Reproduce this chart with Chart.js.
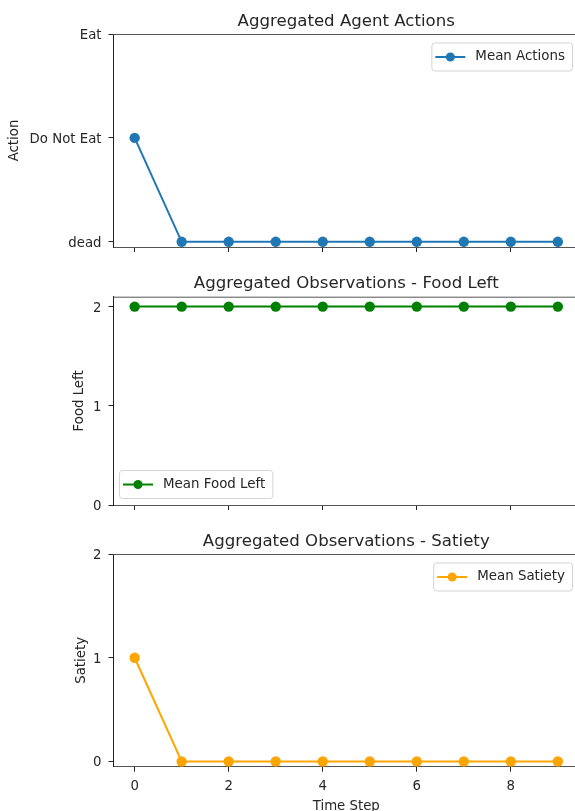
<!DOCTYPE html>
<html>
<head>
<meta charset="utf-8">
<script src="https://cdn.jsdelivr.net/npm/chart.js@4.4.1/dist/chart.umd.min.js"></script>
<style>
  html, body { margin: 0; padding: 0; background: #fff; width: 575px; height: 811px; overflow: hidden; }
  .panel { position: absolute; left: 0; }
</style>
</head>
<body>
<div class="panel" style="top:0px"><canvas id="actions" width="600" height="262"></canvas></div>
<div class="panel" style="top:262px"><canvas id="food" width="600" height="258"></canvas></div>
<div class="panel" style="top:520px"><canvas id="satiety" width="600" height="291"></canvas></div>
<script>
// Aggregated per-step means over all agents
const timeSteps = [0, 1, 2, 3, 4, 5, 6, 7, 8, 9];
const meanActions = [1, 0, 0, 0, 0, 0, 0, 0, 0, 0];
const meanFoodLeft = [2, 2, 2, 2, 2, 2, 2, 2, 2, 2];
const meanSatiety = [1, 0, 0, 0, 0, 0, 0, 0, 0, 0];

// Tick labels
const actionLabels = ['dead', 'Do Not Eat', 'Eat'];
const xTickValues = [0, 2, 4, 6, 8];
const yTickValues = [0, 1, 2];

const FONT = "'DejaVu Sans', 'Liberation Sans', sans-serif";
const TICK_SIZE = 13.3;
const LEGEND_SIZE = 13.4;
const TITLE_SIZE = 16.6;
const TEXT_COLOR = '#262626';

// Top frame line, panel title and a boxed legend
const framePlugin = {
  id: 'frame',
  afterDraw(chart, args, opts) {
    const { ctx, chartArea: a } = chart;
    ctx.save();
    ctx.lineWidth = 1;
    ctx.strokeStyle = '#555';
    ctx.beginPath();
    ctx.moveTo(a.left, a.top + 0.5);
    ctx.lineTo(a.right, a.top + 0.5);
    ctx.stroke();

    // title
    ctx.fillStyle = TEXT_COLOR;
    ctx.font = `${TITLE_SIZE}px ${FONT}`;
    ctx.textAlign = 'center';
    ctx.textBaseline = 'alphabetic';
    ctx.fillText(opts.title, (a.left + a.right) / 2, a.top - 8.5);

    // legend
    const ds = chart.data.datasets[0];
    ctx.font = `${LEGEND_SIZE}px ${FONT}`;
    const tw = ctx.measureText(ds.label).width;
    const bw = 4 + 30 + 10 + tw + 7;
    const bh = 28;
    const pad = 7;
    let bx, by;
    if (opts.legendAt === 'sw') {
      bx = a.left + 5.5;
      by = a.bottom - pad - bh;
    } else {
      bx = 572 - bw;
      by = a.top + 8.5;
    }
    ctx.beginPath();
    ctx.roundRect(bx + 0.5, by + 0.5, bw, bh, 3);
    ctx.fillStyle = 'rgba(255,255,255,0.85)';
    ctx.fill();
    ctx.strokeStyle = '#d4d4d4';
    ctx.stroke();
    const cy = by + bh / 2 + 0.5;
    ctx.strokeStyle = ds.borderColor;
    ctx.lineWidth = 2;
    ctx.beginPath();
    ctx.moveTo(bx + 4, cy);
    ctx.lineTo(bx + 34, cy);
    ctx.stroke();
    ctx.fillStyle = ds.borderColor;
    ctx.beginPath();
    ctx.arc(bx + 19, cy, 4.5, 0, Math.PI * 2);
    ctx.fill();
    ctx.fillStyle = TEXT_COLOR;
    ctx.textAlign = 'left';
    ctx.textBaseline = 'middle';
    ctx.fillText(ds.label, bx + 44, cy);
    ctx.restore();
  }
};

function makePanel(id, cfg) {
  const points = timeSteps.map((t, i) => ({ x: t, y: cfg.values[i] }));
  return new Chart(document.getElementById(id), {
    type: 'line',
    data: {
      datasets: [{
        label: cfg.label,
        data: points,
        borderColor: cfg.color,
        backgroundColor: cfg.color,
        borderWidth: 2,
        pointRadius: 5.2,
        pointHoverRadius: 5.2,
        pointBorderWidth: 0,
        tension: 0
      }]
    },
    options: {
      responsive: false,
      animation: false,
      events: [],
      layout: { padding: { top: cfg.top, left: cfg.padLeft, right: 21, bottom: 0 } },
      plugins: {
        legend: { display: false },
        tooltip: { enabled: false },
        frame: { title: cfg.title, legendAt: cfg.legendAt }
      },
      scales: {
        x: {
          type: 'linear',
          min: -0.45,
          max: 9.45,
          afterBuildTicks: s => { s.ticks = xTickValues.map(v => ({ value: v })); },
          afterFit: s => { s.height = cfg.xHeight; },
          grid: { drawOnChartArea: false, drawTicks: true, tickLength: 5, color: '#222', lineWidth: 1 },
          border: { display: true, color: '#555', width: 1 },
          ticks: {
            padding: 7,
            maxRotation: 0,
            autoSkip: false,
            color: TEXT_COLOR,
            font: { family: FONT, size: TICK_SIZE },
            callback: v => cfg.xLabels ? String(v) : ''
          },
          title: {
            display: !!cfg.xLabels,
            text: 'Time Step',
            color: TEXT_COLOR,
            padding: { top: 0, bottom: -2 },
            font: { family: FONT, size: TICK_SIZE, lineHeight: 1.0 }
          }
        },
        y: {
          type: 'linear',
          min: cfg.yMin,
          max: cfg.yMax,
          afterBuildTicks: s => { s.ticks = yTickValues.map(v => ({ value: v })); },
          afterFit: s => { s.width = 113.5 - cfg.padLeft; },
          grid: { drawOnChartArea: false, drawTicks: true, tickLength: 5, color: '#222', lineWidth: 1 },
          border: { display: true, color: '#222', width: 1 },
          ticks: {
            padding: 7,
            labelOffset: 1.5,
            color: TEXT_COLOR,
            font: { family: FONT, size: TICK_SIZE },
            callback: v => cfg.yLabels ? cfg.yLabels[v] : String(v)
          },
          title: {
            display: true,
            text: cfg.yTitle,
            color: TEXT_COLOR,
            padding: { top: 0, bottom: 0 },
            font: { family: FONT, size: TICK_SIZE }
          }
        }
      }
    },
    plugins: [framePlugin]
  });
}

makePanel('actions', {
  values: meanActions, label: 'Mean Actions', color: '#1f77b4',
  title: 'Aggregated Agent Actions', yTitle: 'Action', yLabels: actionLabels,
  yMin: -0.05, yMax: 2, top: 34, padLeft: 7, xHeight: 14.5, legendAt: 'ne', xLabels: false
});
makePanel('food', {
  values: meanFoodLeft, label: 'Mean Food Left', color: '#008000',
  title: 'Aggregated Observations - Food Left', yTitle: 'Food Left',
  yMin: 0, yMax: 2.1, top: 34.7, padLeft: 72, xHeight: 12.3, legendAt: 'sw', xLabels: false
});
makePanel('satiety', {
  values: meanSatiety, label: 'Mean Satiety', color: '#ffa500',
  title: 'Aggregated Observations - Satiety', yTitle: 'Satiety',
  yMin: -0.05, yMax: 2, top: 34, padLeft: 74, xHeight: 44.3, legendAt: 'ne', xLabels: true
});
</script>
</body>
</html>
